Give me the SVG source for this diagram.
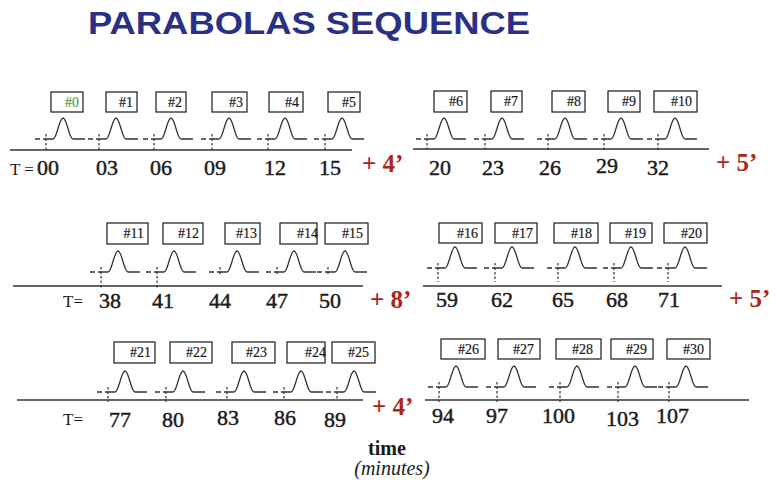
<svg xmlns="http://www.w3.org/2000/svg" xmlns:xlink="http://www.w3.org/1999/xlink" width="777" height="485" viewBox="0 0 777 485">
  <style>
    .bg { fill: #ffffff; }
    .title { font-family: "Liberation Sans", Arial, sans-serif; font-weight: bold; font-size: 31px; fill: #2a3185; }
    .box { fill: #ffffff; stroke: #2b2b2b; stroke-width: 1.3; }
    .tag { font-family: "Liberation Serif", "Times New Roman", serif; font-size: 14px; fill: #1a1a1a; stroke: #1a1a1a; stroke-width: 0.2; text-anchor: end; }
    .tag.first { fill: #5a9a3c; stroke: #5a9a3c; }
    .pulse { fill: none; stroke: #333333; stroke-width: 1.3; stroke-linejoin: round; }
    .tick { stroke: #333333; stroke-width: 1.2; stroke-dasharray: 2.5 2; }
    .axis { stroke: #333333; stroke-width: 1.3; }
    .num { font-family: "Liberation Serif", "Times New Roman", serif; font-size: 22px; fill: #1a1a1a; stroke: #1a1a1a; stroke-width: 0.45; }
    .tlab { font-family: "Liberation Serif", "Times New Roman", serif; font-size: 17px; fill: #1a1a1a; }
    .gap { font-family: "Liberation Serif", "Times New Roman", serif; font-weight: bold; font-size: 25px; fill: #a8281a; }
    .unit { font-family: "Liberation Serif", "Times New Roman", serif; font-size: 20px; fill: #1a1a1a; text-anchor: middle; }
  </style>
  <defs>
    <!-- one acquisition pulse, origin at the start tick on the baseline -->
    <path id="pulse" class="pulse" d="M-11,0 H-6 M-3,0 H7 C11,0 13,-21 17,-21 C21,-21 23,0 27,0 H39"/>
  </defs>

  <rect class="bg" x="0" y="0" width="777" height="485"/>
  <text class="title" x="88" y="34" textLength="442" lengthAdjust="spacingAndGlyphs">PARABOLAS SEQUENCE</text>

  <!-- time axes -->
  <g id="axes">
    <line class="axis" x1="10" y1="150" x2="352" y2="150"/>
    <line class="axis" x1="413" y1="149" x2="709" y2="149"/>
    <line class="axis" x1="13" y1="286" x2="363" y2="286"/>
    <line class="axis" x1="423" y1="286" x2="722" y2="286"/>
    <line class="axis" x1="17" y1="400" x2="363" y2="400"/>
    <line class="axis" x1="425" y1="400" x2="749" y2="400"/>
  </g>

  <!-- parabolas, row 1 -->
  <g id="p0"><rect class="box" x="51" y="92" width="32" height="20"/><text class="tag first" x="79" y="107">#0</text><use xlink:href="#pulse" x="46" y="139"/><line class="tick" x1="46" y1="134" x2="46" y2="152"/></g>
  <g id="p1"><rect class="box" x="106" y="92" width="31" height="20"/><text class="tag" x="133" y="107">#1</text><use xlink:href="#pulse" x="99" y="139"/><line class="tick" x1="99" y1="134" x2="99" y2="152"/></g>
  <g id="p2"><rect class="box" x="156" y="92" width="30" height="20"/><text class="tag" x="182" y="107">#2</text><use xlink:href="#pulse" x="154" y="139"/><line class="tick" x1="154" y1="134" x2="154" y2="152"/></g>
  <g id="p3"><rect class="box" x="212" y="92" width="35" height="20"/><text class="tag" x="243" y="107">#3</text><use xlink:href="#pulse" x="212" y="139"/><line class="tick" x1="212" y1="134" x2="212" y2="152"/></g>
  <g id="p4"><rect class="box" x="269" y="92" width="34" height="20"/><text class="tag" x="299" y="107">#4</text><use xlink:href="#pulse" x="268" y="139"/><line class="tick" x1="268" y1="134" x2="268" y2="152"/></g>
  <g id="p5"><rect class="box" x="328" y="92" width="32" height="20"/><text class="tag" x="356" y="107">#5</text><use xlink:href="#pulse" x="325" y="139"/><line class="tick" x1="325" y1="134" x2="325" y2="152"/></g>
  <g id="p6"><rect class="box" x="434" y="91" width="33" height="21"/><text class="tag" x="463" y="106">#6</text><use xlink:href="#pulse" x="427" y="139"/><line class="tick" x1="427" y1="134" x2="427" y2="151"/></g>
  <g id="p7"><rect class="box" x="491" y="91" width="31" height="21"/><text class="tag" x="518" y="106">#7</text><use xlink:href="#pulse" x="485" y="139"/><line class="tick" x1="485" y1="134" x2="485" y2="151"/></g>
  <g id="p8"><rect class="box" x="552" y="91" width="33" height="21"/><text class="tag" x="581" y="106">#8</text><use xlink:href="#pulse" x="548" y="139"/><line class="tick" x1="548" y1="134" x2="548" y2="151"/></g>
  <g id="p9"><rect class="box" x="608" y="91" width="32" height="21"/><text class="tag" x="636" y="106">#9</text><use xlink:href="#pulse" x="604" y="139"/><line class="tick" x1="604" y1="134" x2="604" y2="151"/></g>
  <g id="p10"><rect class="box" x="654" y="91" width="43" height="21"/><text class="tag" x="692" y="106">#10</text><use xlink:href="#pulse" x="658" y="139"/><line class="tick" x1="658" y1="134" x2="658" y2="151"/></g>

  <!-- parabolas, row 2 -->
  <g id="p11"><rect class="box" x="107" y="223" width="41" height="21"/><text class="tag" x="144" y="238">#11</text><use xlink:href="#pulse" x="101" y="272"/><line class="tick" x1="101" y1="267" x2="101" y2="288"/></g>
  <g id="p12"><rect class="box" x="163" y="223" width="40" height="21"/><text class="tag" x="199" y="238">#12</text><use xlink:href="#pulse" x="157" y="272"/><line class="tick" x1="157" y1="267" x2="157" y2="288"/></g>
  <g id="p13"><rect class="box" x="225" y="223" width="35" height="21"/><text class="tag" x="257" y="238">#13</text><use xlink:href="#pulse" x="220" y="272"/><line class="tick" x1="220" y1="267" x2="220" y2="275"/></g>
  <g id="p14"><rect class="box" x="280" y="223" width="37" height="21"/><text class="tag" x="318" y="238">#14</text><use xlink:href="#pulse" x="277" y="272"/><line class="tick" x1="277" y1="267" x2="277" y2="276"/></g>
  <g id="p15"><rect class="box" x="325" y="223" width="43" height="21"/><text class="tag" x="363" y="238">#15</text><use xlink:href="#pulse" x="328" y="272"/><line class="tick" x1="328" y1="267" x2="328" y2="276"/></g>
  <g id="p16"><rect class="box" x="439" y="223" width="43" height="20"/><text class="tag" x="478" y="238">#16</text><use xlink:href="#pulse" x="438" y="268"/><line class="tick" x1="438" y1="263" x2="438" y2="282"/></g>
  <g id="p17"><rect class="box" x="495" y="223" width="42" height="20"/><text class="tag" x="533" y="238">#17</text><use xlink:href="#pulse" x="495" y="268"/><line class="tick" x1="495" y1="263" x2="495" y2="282"/></g>
  <g id="p18"><rect class="box" x="554" y="223" width="44" height="20"/><text class="tag" x="592" y="238">#18</text><use xlink:href="#pulse" x="558" y="268"/><line class="tick" x1="558" y1="263" x2="558" y2="282"/></g>
  <g id="p19"><rect class="box" x="610" y="223" width="42" height="20"/><text class="tag" x="646" y="238">#19</text><use xlink:href="#pulse" x="614" y="268"/><line class="tick" x1="614" y1="263" x2="614" y2="282"/></g>
  <g id="p20"><rect class="box" x="664" y="223" width="43" height="20"/><text class="tag" x="702" y="238">#20</text><use xlink:href="#pulse" x="668" y="268"/><line class="tick" x1="668" y1="263" x2="668" y2="282"/></g>

  <!-- parabolas, row 3 -->
  <g id="p21"><rect class="box" x="114" y="342" width="41" height="21"/><text class="tag" x="151" y="357">#21</text><use xlink:href="#pulse" x="108" y="392"/><line class="tick" x1="108" y1="387" x2="108" y2="402"/></g>
  <g id="p22"><rect class="box" x="170" y="342" width="42" height="21"/><text class="tag" x="207" y="357">#22</text><use xlink:href="#pulse" x="166" y="392"/><line class="tick" x1="166" y1="387" x2="166" y2="402"/></g>
  <g id="p23"><rect class="box" x="232" y="342" width="43" height="21"/><text class="tag" x="267" y="357">#23</text><use xlink:href="#pulse" x="227" y="392"/><line class="tick" x1="227" y1="387" x2="227" y2="399"/></g>
  <g id="p24"><rect class="box" x="287" y="342" width="38" height="21"/><text class="tag" x="326" y="357">#24</text><use xlink:href="#pulse" x="284" y="392"/><line class="tick" x1="284" y1="387" x2="284" y2="399"/></g>
  <g id="p25"><rect class="box" x="332" y="342" width="43" height="21"/><text class="tag" x="369" y="357">#25</text><use xlink:href="#pulse" x="337" y="392"/><line class="tick" x1="337" y1="387" x2="337" y2="399"/></g>
  <g id="p26"><rect class="box" x="441" y="339" width="44" height="20"/><text class="tag" x="479" y="354">#26</text><use xlink:href="#pulse" x="439" y="387"/><line class="tick" x1="439" y1="382" x2="439" y2="402"/></g>
  <g id="p27"><rect class="box" x="498" y="339" width="42" height="20"/><text class="tag" x="534" y="354">#27</text><use xlink:href="#pulse" x="497" y="387"/><line class="tick" x1="497" y1="382" x2="497" y2="402"/></g>
  <g id="p28"><rect class="box" x="556" y="339" width="45" height="20"/><text class="tag" x="593" y="354">#28</text><use xlink:href="#pulse" x="560" y="387"/><line class="tick" x1="560" y1="382" x2="560" y2="402"/></g>
  <g id="p29"><rect class="box" x="611" y="339" width="42" height="20"/><text class="tag" x="647" y="354">#29</text><use xlink:href="#pulse" x="618" y="387"/><line class="tick" x1="618" y1="382" x2="618" y2="402"/></g>
  <g id="p30"><rect class="box" x="667" y="339" width="43" height="20"/><text class="tag" x="704" y="354">#30</text><use xlink:href="#pulse" x="669" y="387"/><line class="tick" x1="669" y1="382" x2="669" y2="402"/></g>

  <!-- time stamps -->
  <g id="times">
    <text class="tlab" x="10" y="175">T =</text>
    <text class="num" x="37" y="175">00</text>
    <text class="num" x="96" y="175">03</text>
    <text class="num" x="150" y="175">06</text>
    <text class="num" x="204" y="175">09</text>
    <text class="num" x="264" y="175">12</text>
    <text class="num" x="319" y="175">15</text>
    <text class="num" x="429" y="175">20</text>
    <text class="num" x="482" y="175">23</text>
    <text class="num" x="539" y="175">26</text>
    <text class="num" x="596" y="173">29</text>
    <text class="num" x="647" y="175">32</text>

    <text class="tlab" x="63" y="307">T=</text>
    <text class="num" x="99" y="308">38</text>
    <text class="num" x="152" y="308">41</text>
    <text class="num" x="209" y="308">44</text>
    <text class="num" x="266" y="308">47</text>
    <text class="num" x="319" y="308">50</text>
    <text class="num" x="436" y="307">59</text>
    <text class="num" x="491" y="307">62</text>
    <text class="num" x="552" y="307">65</text>
    <text class="num" x="606" y="307">68</text>
    <text class="num" x="658" y="307">71</text>

    <text class="tlab" x="63" y="425">T=</text>
    <text class="num" x="109" y="427">77</text>
    <text class="num" x="162" y="427">80</text>
    <text class="num" x="217" y="425">83</text>
    <text class="num" x="274" y="425">86</text>
    <text class="num" x="324" y="427">89</text>
    <text class="num" x="432" y="423">94</text>
    <text class="num" x="486" y="423">97</text>
    <text class="num" x="542" y="423">100</text>
    <text class="num" x="606" y="426">103</text>
    <text class="num" x="656" y="423">107</text>
  </g>

  <!-- pauses between blocks -->
  <g id="pauses">
    <text class="gap" x="362" y="172">+ 4’</text>
    <text class="gap" x="716" y="171">+ 5’</text>
    <text class="gap" x="370" y="308">+ 8’</text>
    <text class="gap" x="729" y="307">+ 5’</text>
    <text class="gap" x="372" y="415">+ 4’</text>
  </g>

  <text class="unit" x="387" y="455" font-weight="bold">time</text>
  <text class="unit" x="392" y="475" font-style="italic">(minutes)</text>
</svg>
